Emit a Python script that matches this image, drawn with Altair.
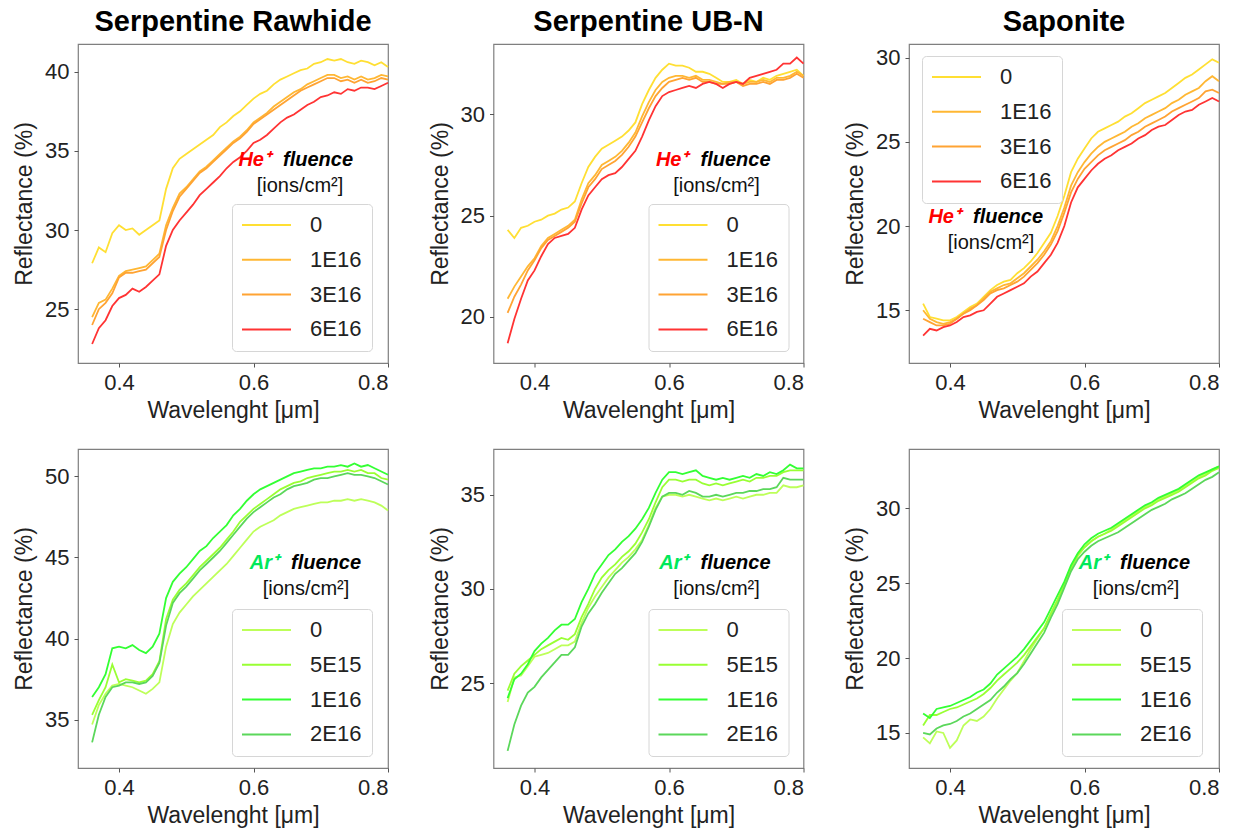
import altair as alt
import pandas as pd

FONT = "Liberation Sans, Arial, sans-serif"

wavelength = [0.36, 0.37, 0.38, 0.39, 0.40, 0.41, 0.42, 0.43, 0.44, 0.45,
              0.46, 0.47, 0.48, 0.49, 0.50, 0.51, 0.52, 0.53, 0.54, 0.55,
              0.56, 0.57, 0.58, 0.59, 0.60, 0.61, 0.62, 0.63, 0.64, 0.65,
              0.66, 0.67, 0.68, 0.69, 0.70, 0.71, 0.72, 0.73, 0.74, 0.75,
              0.76, 0.77, 0.78, 0.79, 0.80]

he_labels = ["0", "1E16", "3E16", "6E16"]
he_colors = ["#FFDF33", "#FFB733", "#FFA333", "#FF3333"]
ar_labels = ["0", "5E15", "1E16", "2E16"]
ar_colors = ["#BDFF59", "#99FF33", "#33FF33", "#5BD75B"]

# ---------- Serpentine Rawhide, He+ ----------
rh_he_0 = [27.9, 28.9, 28.6, 29.8, 30.3, 30.0, 30.1, 29.7, 30.0, 30.3,
           30.6, 32.6, 33.9, 34.5, 34.8, 35.1, 35.4, 35.7, 36.0, 36.5,
           36.8, 37.2, 37.5, 37.9, 38.3, 38.6, 38.8, 39.2, 39.5, 39.7,
           39.9, 40.1, 40.2, 40.5, 40.6, 40.8, 40.7, 40.8, 40.6, 40.5,
           40.7, 40.6, 40.4, 40.6, 40.3]
rh_he_1e16 = [24.5, 25.4, 25.6, 26.3, 27.1, 27.4, 27.5, 27.6, 27.7, 28.1,
              28.5, 30.3, 31.4, 32.3, 32.7, 33.2, 33.7, 34.0, 34.4, 34.8,
              35.2, 35.6, 35.9, 36.3, 36.8, 37.1, 37.4, 37.8, 38.1, 38.4,
              38.7, 38.9, 39.2, 39.4, 39.6, 39.8, 39.8, 39.6, 39.7, 39.5,
              39.7, 39.5, 39.6, 39.8, 39.7]
rh_he_3e16 = [24.0, 25.0, 25.4, 26.0, 27.0, 27.3, 27.3, 27.4, 27.5, 27.9,
              28.3, 30.0, 31.2, 32.1, 32.6, 33.1, 33.6, 33.9, 34.3, 34.7,
              35.1, 35.5, 35.8, 36.2, 36.7, 37.0, 37.3, 37.6, 37.9, 38.2,
              38.5, 38.8, 39.0, 39.2, 39.4, 39.6, 39.6, 39.4, 39.5, 39.3,
              39.5, 39.3, 39.4, 39.6, 39.5]
rh_he_6e16 = [22.8, 23.8, 24.3, 25.2, 25.7, 25.9, 26.3, 26.1, 26.4, 26.8,
              27.2, 29.0, 30.0, 30.6, 31.1, 31.6, 32.2, 32.6, 33.0, 33.4,
              33.9, 34.3, 34.6, 35.0, 35.5, 35.7, 36.0, 36.4, 36.8, 37.1,
              37.3, 37.6, 37.9, 38.1, 38.4, 38.5, 38.7, 38.6, 38.9, 38.8,
              39.0, 39.0, 38.9, 39.1, 39.3]

# ---------- Serpentine UB-N, He+ ----------
ub_he_0 = [24.3, 23.9, 24.4, 24.5, 24.7, 24.8, 25.0, 25.1, 25.3, 25.4,
           25.7, 26.6, 27.4, 27.9, 28.3, 28.5, 28.7, 28.9, 29.2, 29.6,
           30.5, 31.2, 31.8, 32.2, 32.5, 32.4, 32.4, 32.3, 32.1, 32.1,
           32.0, 31.8, 31.6, 31.6, 31.7, 31.5, 31.7, 31.6, 31.8, 31.7,
           31.9, 32.0, 32.1, 32.2, 31.9]
ub_he_1e16 = [20.9, 21.5, 22.0, 22.5, 22.9, 23.5, 23.9, 24.1, 24.3, 24.5,
              24.8, 25.8, 26.6, 27.0, 27.5, 27.7, 27.9, 28.2, 28.6, 29.1,
              29.9, 30.6, 31.2, 31.6, 31.8, 31.9, 31.9, 31.8, 31.9, 31.7,
              31.7, 31.6, 31.5, 31.6, 31.6, 31.5, 31.6, 31.6, 31.7, 31.6,
              31.8, 31.8, 31.9, 32.1, 31.9]
ub_he_3e16 = [20.2, 21.0, 21.6, 22.3, 22.8, 23.4, 23.8, 24.0, 24.2, 24.4,
              24.7, 25.6, 26.4, 26.8, 27.3, 27.5, 27.7, 28.0, 28.4, 28.9,
              29.6, 30.3, 30.9, 31.3, 31.6, 31.7, 31.8, 31.7, 31.8, 31.6,
              31.6, 31.5, 31.5, 31.5, 31.6, 31.4, 31.5, 31.5, 31.6, 31.5,
              31.7, 31.7, 31.8, 32.0, 31.8]
ub_he_6e16 = [18.7, 19.9, 20.9, 21.8, 22.3, 23.0, 23.6, 23.9, 24.0, 24.1,
              24.4, 25.3, 26.0, 26.4, 26.8, 27.0, 27.1, 27.4, 27.8, 28.2,
              28.9, 29.7, 30.4, 30.9, 31.1, 31.2, 31.3, 31.4, 31.3, 31.5,
              31.6, 31.5, 31.3, 31.5, 31.6, 31.5, 31.8, 31.9, 32.0, 32.1,
              32.2, 32.5, 32.5, 32.8, 32.5]

# ---------- Saponite, He+ ----------
sa_he_0 = [15.4, 14.6, 14.5, 14.4, 14.4, 14.6, 14.9, 15.2, 15.4, 15.8,
           16.2, 16.5, 16.7, 16.8, 17.2, 17.5, 17.9, 18.4, 19.0, 19.6,
           20.6, 21.8, 23.2, 24.0, 24.6, 25.2, 25.6, 25.8, 26.0, 26.2,
           26.5, 26.7, 27.0, 27.3, 27.5, 27.7, 27.9, 28.2, 28.5, 28.8,
           29.0, 29.3, 29.6, 29.9, 29.7]
sa_he_1e16 = [15.0, 14.5, 14.3, 14.2, 14.3, 14.5, 14.8, 15.1, 15.3, 15.7,
              16.1, 16.3, 16.5, 16.6, 16.9, 17.2, 17.6, 18.0, 18.5, 19.1,
              20.0, 21.1, 22.4, 23.2, 23.8, 24.3, 24.7, 25.0, 25.2, 25.4,
              25.6, 25.9, 26.1, 26.4, 26.6, 26.8, 27.0, 27.3, 27.5, 27.8,
              28.0, 28.2, 28.6, 28.9, 28.6]
sa_he_3e16 = [14.5, 14.3, 14.1, 14.1, 14.2, 14.5, 14.8, 15.0, 15.3, 15.6,
              16.0, 16.2, 16.3, 16.5, 16.7, 17.0, 17.4, 17.8, 18.3, 18.9,
              19.7, 20.8, 22.0, 22.8, 23.4, 23.8, 24.2, 24.5, 24.7, 24.9,
              25.1, 25.4, 25.6, 25.9, 26.1, 26.3, 26.5, 26.8, 27.0, 27.2,
              27.4, 27.6, 28.0, 28.1, 27.9]
sa_he_6e16 = [13.5, 13.9, 13.8, 14.0, 14.1, 14.3, 14.6, 14.7, 14.9, 15.0,
              15.4, 15.8, 16.0, 16.2, 16.4, 16.6, 17.0, 17.3, 17.8, 18.3,
              19.0, 20.0, 21.4, 22.3, 22.8, 23.3, 23.7, 24.0, 24.2, 24.5,
              24.7, 24.9, 25.2, 25.4, 25.7, 25.9, 26.0, 26.3, 26.6, 26.8,
              26.9, 27.2, 27.4, 27.6, 27.4]

# ---------- Serpentine Rawhide, Ar+ ----------
rh_ar_0 = [34.7, 35.9, 36.6, 37.1, 37.2, 37.1, 37.0, 36.8, 36.6, 36.9,
           37.3, 39.5, 40.9, 41.6, 42.1, 42.6, 43.0, 43.4, 43.8, 44.2,
           44.6, 45.1, 45.6, 46.1, 46.6, 46.9, 47.1, 47.3, 47.6, 47.8,
           48.0, 48.1, 48.2, 48.3, 48.4, 48.4, 48.5, 48.5, 48.6, 48.5,
           48.6, 48.5, 48.4, 48.2, 47.9]
rh_ar_5e15 = [35.3, 36.2, 37.0, 38.4, 37.3, 37.5, 37.4, 37.3, 37.4, 37.8,
              38.6, 41.2, 42.4, 43.0, 43.4, 43.9, 44.4, 44.8, 45.2, 45.6,
              46.1, 46.6, 47.2, 47.6, 48.0, 48.3, 48.6, 48.9, 49.2, 49.4,
              49.6, 49.7, 49.9, 50.0, 50.1, 50.2, 50.3, 50.3, 50.4, 50.3,
              50.4, 50.2, 50.2, 49.9, 49.8]
rh_ar_1e16 = [36.4, 37.0, 37.8, 39.4, 39.5, 39.4, 39.6, 39.3, 39.1, 39.5,
              40.3, 42.5, 43.5, 44.0, 44.4, 44.9, 45.4, 45.7, 46.2, 46.6,
              47.0, 47.6, 48.0, 48.5, 48.9, 49.2, 49.4, 49.6, 49.8, 50.0,
              50.2, 50.3, 50.4, 50.5, 50.5, 50.6, 50.6, 50.7, 50.6, 50.8,
              50.6, 50.7, 50.5, 50.3, 50.1]
rh_ar_2e16 = [33.6, 35.3, 36.4, 37.0, 37.1, 37.3, 37.3, 37.2, 37.3, 37.7,
              38.5, 40.8, 42.2, 42.8, 43.2, 43.7, 44.2, 44.6, 45.0, 45.4,
              45.9, 46.4, 46.9, 47.4, 47.8, 48.1, 48.4, 48.7, 48.9, 49.2,
              49.4, 49.5, 49.6, 49.8, 49.9, 49.9, 50.0, 50.1, 50.2, 50.1,
              50.1, 50.0, 49.9, 49.7, 49.5]

# ---------- Serpentine UB-N, Ar+ ----------
ub_ar_0 = [24.0, 25.3, 25.4, 25.9, 26.4, 26.5, 26.6, 26.8, 27.0, 27.0,
           27.2, 28.2, 29.0, 29.6, 30.1, 30.6, 31.0, 31.4, 31.7, 32.1,
           32.6, 33.4, 34.3, 34.9, 35.0, 35.0, 34.9, 35.0, 34.9, 34.8,
           34.7, 34.8, 34.7, 34.8, 34.9, 34.8, 34.9, 35.0, 35.0, 35.1,
           35.1, 35.5, 35.4, 35.4, 35.5]
ub_ar_5e15 = [24.6, 25.5, 25.9, 26.2, 26.5, 26.8, 27.0, 27.2, 27.4, 27.3,
              27.6, 28.5, 29.2, 30.0, 30.6, 31.0, 31.3, 31.7, 32.0, 32.4,
              33.0, 33.7, 34.6, 35.4, 35.8, 35.8, 35.7, 35.8, 35.8, 35.6,
              35.5, 35.6, 35.5, 35.6, 35.7, 35.8, 35.7, 35.9, 35.9, 36.0,
              36.0, 36.2, 36.3, 36.3, 36.3]
ub_ar_1e16 = [24.2, 25.2, 25.5, 26.0, 26.7, 27.1, 27.4, 27.8, 28.1, 28.1,
              28.4, 29.3, 30.0, 30.8, 31.3, 31.8, 32.1, 32.5, 32.8, 33.2,
              33.7, 34.3, 35.1, 35.8, 36.2, 36.2, 36.1, 36.2, 36.3, 36.0,
              35.9, 35.8, 35.9, 35.8, 35.9, 36.0, 35.9, 36.1, 36.0, 36.2,
              36.1, 36.3, 36.6, 36.4, 36.4]
ub_ar_2e16 = [21.4, 22.8, 23.8, 24.5, 24.8, 25.3, 25.7, 26.1, 26.5, 26.5,
              26.9, 28.0, 28.7, 29.2, 29.8, 30.3, 30.8, 31.1, 31.5, 31.9,
              32.5, 33.3, 34.2, 34.9, 35.1, 35.1, 35.0, 35.2, 35.1, 34.9,
              34.9, 35.0, 34.9, 35.0, 35.1, 35.1, 35.2, 35.2, 35.3, 35.3,
              35.4, 35.9, 35.8, 35.8, 35.8]

# ---------- Saponite, Ar+ ----------
sa_ar_0 = [14.7, 14.3, 15.1, 15.0, 14.0, 14.5, 15.5, 15.9, 15.8, 16.1,
           16.6, 17.3, 17.9, 18.5, 19.0, 19.8, 20.6, 21.3, 22.0, 22.9,
           23.8, 24.9, 26.0, 26.8, 27.4, 27.8, 28.1, 28.3, 28.6, 28.9,
           29.2, 29.5, 29.8, 30.1, 30.3, 30.6, 30.8, 31.0, 31.2, 31.5,
           31.8, 32.1, 32.3, 32.6, 32.8]
sa_ar_5e15 = [15.5, 16.2, 16.2, 16.4, 16.6, 16.7, 16.9, 17.1, 17.3, 17.6,
              18.0, 18.5, 18.9, 19.3, 19.7, 20.2, 20.8, 21.4, 22.0, 23.0,
              23.9, 24.9, 26.0, 26.9, 27.4, 27.8, 28.1, 28.3, 28.5, 28.8,
              29.1, 29.4, 29.7, 30.0, 30.2, 30.5, 30.7, 30.9, 31.1, 31.4,
              31.7, 32.0, 32.2, 32.5, 32.7]
sa_ar_1e16 = [16.3, 16.0, 16.6, 16.7, 16.8, 17.0, 17.2, 17.4, 17.7, 17.9,
              18.3, 18.9, 19.3, 19.7, 20.1, 20.6, 21.2, 21.8, 22.4, 23.3,
              24.2, 25.1, 26.2, 27.0, 27.6, 28.0, 28.3, 28.5, 28.7, 29.0,
              29.3, 29.6, 29.9, 30.2, 30.4, 30.7, 30.9, 31.1, 31.3, 31.6,
              31.9, 32.2, 32.4, 32.6, 32.8]
sa_ar_2e16 = [15.0, 14.9, 15.3, 15.5, 15.6, 15.8, 16.1, 16.3, 16.6, 16.9,
              17.2, 17.7, 18.1, 18.6, 19.0, 19.6, 20.3, 21.0, 21.7, 22.7,
              23.6, 24.7, 25.8, 26.6, 27.1, 27.5, 27.8, 28.0, 28.2, 28.4,
              28.7, 29.0, 29.3, 29.6, 29.9, 30.1, 30.3, 30.6, 30.8, 31.0,
              31.3, 31.6, 31.9, 32.1, 32.4]

panel_titles = ["Serpentine Rawhide", "Serpentine UB-N", "Saponite"]

x_ticks = [0.4, 0.6, 0.8]
x_domain = [0.339, 0.8]

PLOT_W = 310
PLOT_H = 319


def panel(series, labels, colors, ydom, yticks, leg_xy, prefix, prefix_color,
          split_x, base_y, unit_x, title=None):
    rows = []
    for k, (lab, vals) in enumerate(zip(labels, series)):
        for w, v in zip(wavelength, vals):
            rows.append({"w": w, "r": v, "fluence": lab, "k": k})
    df = pd.DataFrame(rows)

    lines = alt.Chart(df).mark_line(strokeWidth=1.8).encode(
        x=alt.X("w:Q",
                scale=alt.Scale(domain=x_domain, nice=False, zero=False),
                axis=alt.Axis(values=x_ticks, format=".1f",
                              title="Wavelenght [μm]")),
        y=alt.Y("r:Q",
                scale=alt.Scale(domain=ydom, nice=False, zero=False),
                axis=alt.Axis(values=yticks, format="d",
                              title="Reflectance (%)")),
        color=alt.Color(
            "fluence:N",
            scale=alt.Scale(domain=labels, range=colors),
            legend=alt.Legend(
                title=None, orient="none",
                legendX=leg_xy[0], legendY=leg_xy[1],
                symbolType="M-1.1,0L3.8,0", symbolSize=400,
                symbolStrokeWidth=2,
                labelOffset=46, rowPadding=12.8, padding=10,
                labelFontSize=22, labelFont=FONT, labelColor="#222222",
                strokeColor="#d6d6d6", cornerRadius=4,
                fillColor="rgba(255,255,255,0.8)",
            ),
        ),
        detail="k:N",
    )

    t1 = alt.Chart(pd.DataFrame({"t": [prefix]})).mark_text(
        font=FONT, fontSize=20, fontWeight="bold", fontStyle="italic",
        color=prefix_color, align="right", baseline="alphabetic",
    ).encode(x=alt.value(split_x), y=alt.value(base_y), text="t:N")
    t2 = alt.Chart(pd.DataFrame({"t": ["fluence"]})).mark_text(
        font=FONT, fontSize=20, fontWeight="bold", fontStyle="italic",
        color="#000000", align="left", baseline="alphabetic",
    ).encode(x=alt.value(split_x + 12), y=alt.value(base_y), text="t:N")
    t3 = alt.Chart(pd.DataFrame({"t": ["[ions/cm²]"]})).mark_text(
        font=FONT, fontSize=20, color="#111111", align="center",
        baseline="alphabetic",
    ).encode(x=alt.value(unit_x), y=alt.value(base_y + 26), text="t:N")

    layers = [lines, t1, t2, t3]
    if title is not None:
        layers.append(alt.Chart(pd.DataFrame({"t": [title]})).mark_text(
            font=FONT, fontSize=29, fontWeight="bold", color="#000000",
            align="center", baseline="alphabetic",
        ).encode(x=alt.value(PLOT_W / 2), y=alt.value(-13), text="t:N"))

    return alt.layer(*layers).properties(width=PLOT_W, height=PLOT_H)


p1 = panel([rh_he_0, rh_he_1e16, rh_he_3e16, rh_he_6e16], he_labels, he_colors,
           [21.6, 41.75], [25, 30, 35, 40], (154, 160), "He⁺", "#FF0000",
           193, 122, 222, title=panel_titles[0])
p2 = panel([ub_he_0, ub_he_1e16, ub_he_3e16, ub_he_6e16], he_labels, he_colors,
           [17.73, 33.47], [20, 25, 30], (155, 160), "He⁺", "#FF0000",
           195, 122, 223, title=panel_titles[1])
p3 = panel([sa_he_0, sa_he_1e16, sa_he_3e16, sa_he_6e16], he_labels, he_colors,
           [11.87, 30.81], [15, 20, 25, 30], (13, 12), "He⁺", "#FF0000",
           52, 179, 82, title=panel_titles[2])
p4 = panel([rh_ar_0, rh_ar_5e15, rh_ar_1e16, rh_ar_2e16], ar_labels, ar_colors,
           [32.02, 51.69], [35, 40, 45, 50], (154, 160), "Ar⁺", "#00E85A",
           201, 120, 228)
p5 = panel([ub_ar_0, ub_ar_5e15, ub_ar_1e16, ub_ar_2e16], ar_labels, ar_colors,
           [20.49, 37.43], [25, 30, 35], (155, 160), "Ar⁺", "#00E85A",
           195, 120, 223)
p6 = panel([sa_ar_0, sa_ar_5e15, sa_ar_1e16, sa_ar_2e16], ar_labels, ar_colors,
           [12.66, 33.96], [15, 20, 25, 30], (153, 160), "Ar⁺", "#00E85A",
           199, 120, 227)

chart = alt.concat(
    p1, p2, p3, p4, p5, p6, columns=3,
    spacing={"row": 86, "column": 105.5}, bounds="flush",
).resolve_scale(
    x="independent", y="independent", color="independent"
).resolve_legend(
    color="independent"
).properties(
    padding={"left": 12, "top": 7, "right": 5, "bottom": 2},
    background="#ffffff",
).configure_view(
    stroke="#7f7f7f", strokeWidth=1.2,
).configure_axis(
    grid=False, domain=False, ticks=True, tickColor="#555555", tickSize=4,
    tickWidth=1, labelFont=FONT, labelFontSize=22, labelColor="#222222",
    labelPadding=5, titleFont=FONT, titleFontSize=23, titleFontWeight="normal",
    titleColor="#222222",
).configure_axisX(
    titlePadding=6,
).configure_axisY(
    titlePadding=8,
)

chart.save("out.html", embed_options={"renderer": "svg", "actions": False})
